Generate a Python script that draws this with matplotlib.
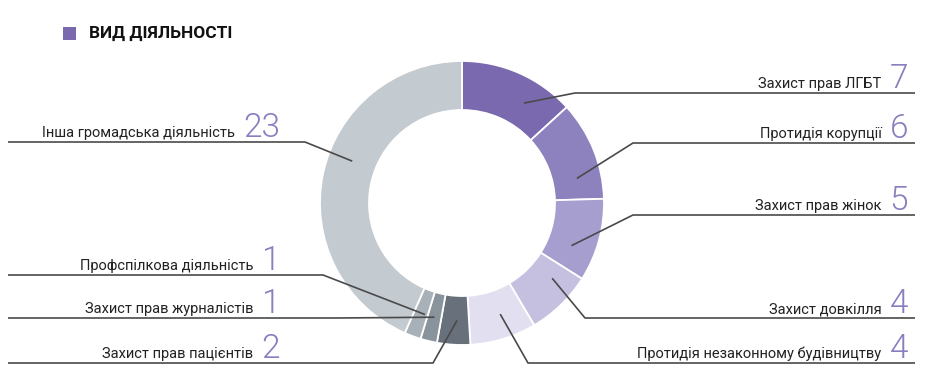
import numpy as np
import matplotlib
matplotlib.use('Agg')
import matplotlib.pyplot as plt
from matplotlib.patches import Rectangle
import warnings
warnings.filterwarnings('ignore')

# ---------------- data ----------------
title = "ВИД ДІЯЛЬНОСТІ"
categories = [
    "Захист прав ЛГБТ",
    "Протидія корупції",
    "Захист прав жінок",
    "Захист довкілля",
    "Протидія незаконному будівництву",
    "Захист прав пацієнтів",
    "Захист прав журналістів",
    "Профспілкова діяльність",
    "Інша громадська діяльність",
]
values = [7, 6, 5, 4, 4, 2, 1, 1, 23]

# ---------------- style / layout ----------------
colors = ["#7A69AF", "#8E82BE", "#A69ECE", "#C5C0E0", "#E2E0F0",
          "#68717B", "#89939C", "#A8B1B8", "#C3CAD0"]
label_side = ["R", "R", "R", "R", "R", "L", "L", "L", "L"]
label_line_y = [93, 143, 215, 318, 363, 363, 318, 275, 142]   # pixel rows
label_knee_x = [575, 633, 633, 585, 528, 433, 337, 323, 305]
anchor_shift_deg = [-8, -10, -6, 6, 2, 1, 0, 2, -9]  # clockwise shift of leader start

W, H = 927, 385
TXT_FONT = ['Roboto', 'DejaVu Sans']
NUM_COLOR = "#8A7DC0"
LINE_COLOR = "#4A4A4A"

fig = plt.figure(figsize=(W / 100, H / 100), dpi=100)
ax = fig.add_axes([0, 0, 1, 1])

cx, cy, R, ring = 462, 203, 142, 49
wedges, _ = ax.pie(values, colors=colors, startangle=90, counterclock=False,
                   center=(cx, H - cy), radius=R,
                   wedgeprops=dict(width=ring, edgecolor='white', linewidth=1.3))
ax.set_xlim(0, W)
ax.set_ylim(0, H)
ax.set_aspect('equal')
ax.axis('off')

# title
ax.add_patch(Rectangle((63, H - 40), 13, 13, color="#7A69AF", lw=0))
ax.text(89, H - 33.5, title, ha='left', va='center', fontsize=12.5,
        fontweight='bold', family=TXT_FONT, color="#111111")

renderer = fig.canvas.get_renderer()

for i, (w, cat, v) in enumerate(zip(wedges, categories, values)):
    mid = np.deg2rad((w.theta1 + w.theta2) / 2 + anchor_shift_deg[i])
    r = w.r - w.width / 2
    ax_x = w.center[0] + r * np.cos(mid)
    ax_y = w.center[1] + r * np.sin(mid)
    ly = H - label_line_y[i]
    kx = label_knee_x[i]
    if label_side[i] == "R":
        xs = [ax_x, kx, 915]
        num_x = 908
    else:
        xs = [ax_x, kx, 8]
        num_x = 280
    ax.plot(xs, [ax_y, ly, ly], color=LINE_COLOR, lw=1.2,
            solid_capstyle='butt', zorder=5)
    nt = ax.text(num_x, ly + 5, str(v), ha='right', va='baseline',
                 fontsize=24, fontweight=300, family=TXT_FONT,
                 color=NUM_COLOR)
    bb = nt.get_window_extent(renderer)
    ax.text(bb.x0 - 8, ly + 5, cat, ha='right', va='baseline',
            fontsize=10.5, family=TXT_FONT, color="#222222")

fig.savefig("out.png", dpi=100)
